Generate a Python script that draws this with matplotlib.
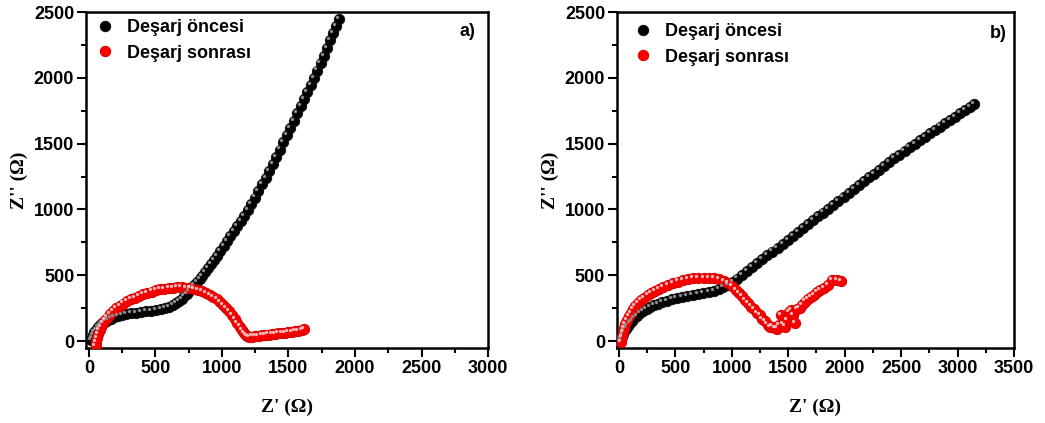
import numpy as np
import matplotlib.pyplot as plt
import matplotlib.transforms as mtransforms

# a) panel - Deşarj öncesi
a_pre_x = [15, 22, 30, 40, 52, 66, 82, 100, 120, 142, 166, 192, 220, 250, 282, 316, 352, 390, 428, 466,
           504, 540, 574, 605, 632, 656, 678, 698, 717, 736, 755, 774, 793, 812, 832, 852, 873, 895, 917, 940,
           964, 988, 1013, 1038, 1064, 1090, 1116, 1142, 1168, 1194, 1220, 1247, 1274, 1301, 1328, 1355, 1382,
           1409, 1436, 1462, 1488, 1514, 1540, 1566, 1592, 1618, 1643, 1668, 1693, 1717, 1741, 1765, 1789, 1812,
           1835, 1857, 1878]
a_pre_y = [5, 25, 45, 65, 85, 103, 120, 135, 148, 160, 171, 181, 190, 198, 205, 211, 216, 221, 226, 231,
           236, 242, 250, 260, 272, 286, 302, 320, 340, 360, 382, 404, 426, 448, 472, 497, 523, 552, 582, 614,
           648, 683, 720, 757, 795, 834, 873, 913, 953, 995, 1040, 1090, 1140, 1190, 1240, 1290, 1345,
           1400, 1455, 1510, 1565, 1620, 1675, 1730, 1785, 1840, 1895, 1945, 2000, 2055, 2110, 2165, 2225, 2285,
           2340, 2395, 2450]

# a) panel - Deşarj sonrası
a_post_x = [50, 55, 62, 70, 80, 92, 106, 122, 140, 160, 182, 206, 232, 259, 287, 316, 346, 377, 408, 440,
            472, 504, 536, 568, 600, 632, 664, 696, 728, 760, 791, 822, 852, 881, 909, 936, 962, 987, 1011, 1034,
            1056, 1077, 1097, 1116, 1134, 1150, 1165, 1178, 1190, 1205, 1225, 1250, 1275, 1300, 1325, 1350, 1375,
            1400, 1425, 1450, 1475, 1500, 1525, 1550, 1575, 1600, 1620]
a_post_y = [-40, -10, 20, 50, 80, 108, 135, 160, 184, 207, 228, 248, 267, 285, 301, 316, 330, 343, 355, 366,
            376, 385, 392, 398, 403, 406, 408, 408, 406, 402, 396, 388, 378, 366, 352, 336, 318, 298, 276, 252,
            226, 198, 168, 138, 110, 84, 62, 45, 35, 32, 34, 37, 40, 43, 46, 49, 52,
            55, 58, 61, 64, 67, 70, 74, 78, 82, 88]

# b) panel - Deşarj öncesi
b_pre_x = [10, 16, 24, 34, 46, 60, 76, 94, 114, 136, 160, 186, 214, 244, 276, 310, 346, 384, 424, 466,
           510, 556, 604, 652, 700, 748, 795, 840, 884, 926, 967, 1007, 1047, 1088,
           1135, 1180, 1225, 1270, 1315, 1360, 1405, 1450, 1495, 1540, 1585, 1630, 1675, 1720, 1765, 1810,
           1855, 1900, 1945, 1990, 2035, 2080, 2125, 2170, 2215, 2260, 2305, 2350, 2395, 2440, 2485, 2530,
           2575, 2620, 2665, 2710, 2755, 2800, 2845, 2890, 2935, 2980, 3025, 3070, 3110, 3150]
b_pre_y = [-5, 15, 35, 55, 75, 95, 115, 135, 155, 173, 192, 210, 226, 242, 257, 271, 284, 296, 307, 317,
           326, 334, 342, 349, 356, 363, 372, 382, 394, 410, 428, 450, 475, 500,
           531, 561, 590, 620, 650, 680, 709, 739, 769, 798, 828, 858, 887, 917, 947, 976,
           1006, 1036, 1065, 1095, 1125, 1154, 1184, 1213, 1243, 1272, 1301, 1330, 1359, 1387, 1415, 1443,
           1471, 1498, 1525, 1552, 1578, 1604, 1630, 1655, 1680, 1705, 1729, 1753, 1775, 1800]

# b) panel - Deşarj sonrası
b_post_x = [20, 26, 34, 44, 56, 70, 86, 104, 124, 146, 170, 196, 224, 254, 286, 320, 356, 394, 434, 476,
            520, 566, 612, 658, 704, 750, 796, 842, 888, 930, 968, 1003, 1035, 1065, 1093, 1120, 1146, 1172,
            1198, 1222, 1246, 1270, 1294, 1316, 1338, 1360, 1382, 1404, 1420, 1438, 1455, 1470, 1488, 1505,
            1525, 1545, 1560, 1580, 1600, 1625, 1650, 1675, 1700, 1728, 1755, 1785, 1815, 1850, 1890, 1930, 1970]
b_post_y = [-5, 30, 65, 98, 130, 160, 188, 215, 240, 264, 287, 308, 328, 347, 365, 382, 398, 413, 427, 440,
            452, 462, 470, 476, 480, 482, 480, 476, 470, 455, 440, 420, 390, 365, 340, 310, 290, 262,
            240, 215, 195, 165, 150, 125, 105, 110, 100, 95, 120, 195, 130, 110, 160, 220,
            235, 200, 140, 240, 250, 270, 300, 320, 335, 350, 370, 390, 405, 425, 460, 465, 455]

panels = [
    ("a)", a_pre_x, a_pre_y, a_post_x, a_post_y, (-22, 3000), np.arange(0, 3001, 500)),
    ("b)", b_pre_x, b_pre_y, b_post_x, b_post_y, (-18, 3500), np.arange(0, 3501, 500)),
]
legend_labels = ["Deşarj öncesi", "Deşarj sonrası"]

tick_font = {"family": "Liberation Sans", "weight": "bold", "size": 13}
label_font = {"family": "Liberation Serif", "weight": "bold", "size": 14}

fig = plt.figure(figsize=(10.45, 4.23), dpi=100)
rects = [[0.0823, 0.1773, 0.3847, 0.7943], [0.5904, 0.1773, 0.3799, 0.7943]]
# where legend / panel tag sit in each panel (axes fraction)
legend_anchor = [(0.024, 0.978), (0.042, 0.966)]
tag_pos = [(0.968, 0.943), (0.982, 0.935)]


def balls(ax, x, y, face, edge, shine, label):
    ax.plot(x, y, "o", ms=7.4, mfc=face, mec=edge, mew=0.7, label=label, zorder=3)
    # little highlight on each ball
    off = mtransforms.ScaledTranslation(-1.5 / 72, 1.5 / 72, fig.dpi_scale_trans)
    ax.plot(x, y, "o", ms=2.4, mfc=shine, mec="none", transform=ax.transData + off, zorder=4)


for i, ((tag, px, py, qx, qy, xlim, xticks), rect) in enumerate(zip(panels, rects)):
    ax = fig.add_axes(rect)
    balls(ax, px, py, "black", "#111111", "#8a8a8a", legend_labels[0])
    balls(ax, qx, qy, "#ff0000", "#d40000", "#ffb4b4", legend_labels[1])

    ax.set_xlim(*xlim)
    ax.set_ylim(-53, 2500)
    ax.set_xticks(xticks)
    ax.set_xticks(xticks[:-1] + 250, minor=True)
    ax.set_yticks(np.arange(0, 2501, 500))
    ax.set_yticks(np.arange(250, 2500, 500), minor=True)
    ax.tick_params(which="major", direction="out", length=6.5, width=1.5, pad=2)
    ax.tick_params(which="minor", direction="out", length=3.5, width=1.5)
    for lab in ax.get_xticklabels() + ax.get_yticklabels():
        lab.set_fontproperties(tick_font)
    for sp in ax.spines.values():
        sp.set_linewidth(1.8)

    ax.set_xlabel("Z' (Ω)", fontdict=label_font, labelpad=16)
    ax.set_ylabel("Z'' (Ω)", fontdict=label_font, labelpad=4)

    ax.text(tag_pos[i][0], tag_pos[i][1], tag, transform=ax.transAxes, ha="right", va="center",
            fontfamily="Liberation Sans", fontweight="bold", fontsize=13)

    leg = ax.legend(loc="upper left", bbox_to_anchor=legend_anchor[i], frameon=False,
                    handlelength=1.0, handletextpad=0.75, borderaxespad=0, borderpad=0,
                    labelspacing=0.45, prop={"family": "Liberation Sans", "weight": "bold", "size": 13})
    for h in leg.legend_handles:
        h.set_markersize(7.5)

fig.savefig("out.png", dpi=100)
